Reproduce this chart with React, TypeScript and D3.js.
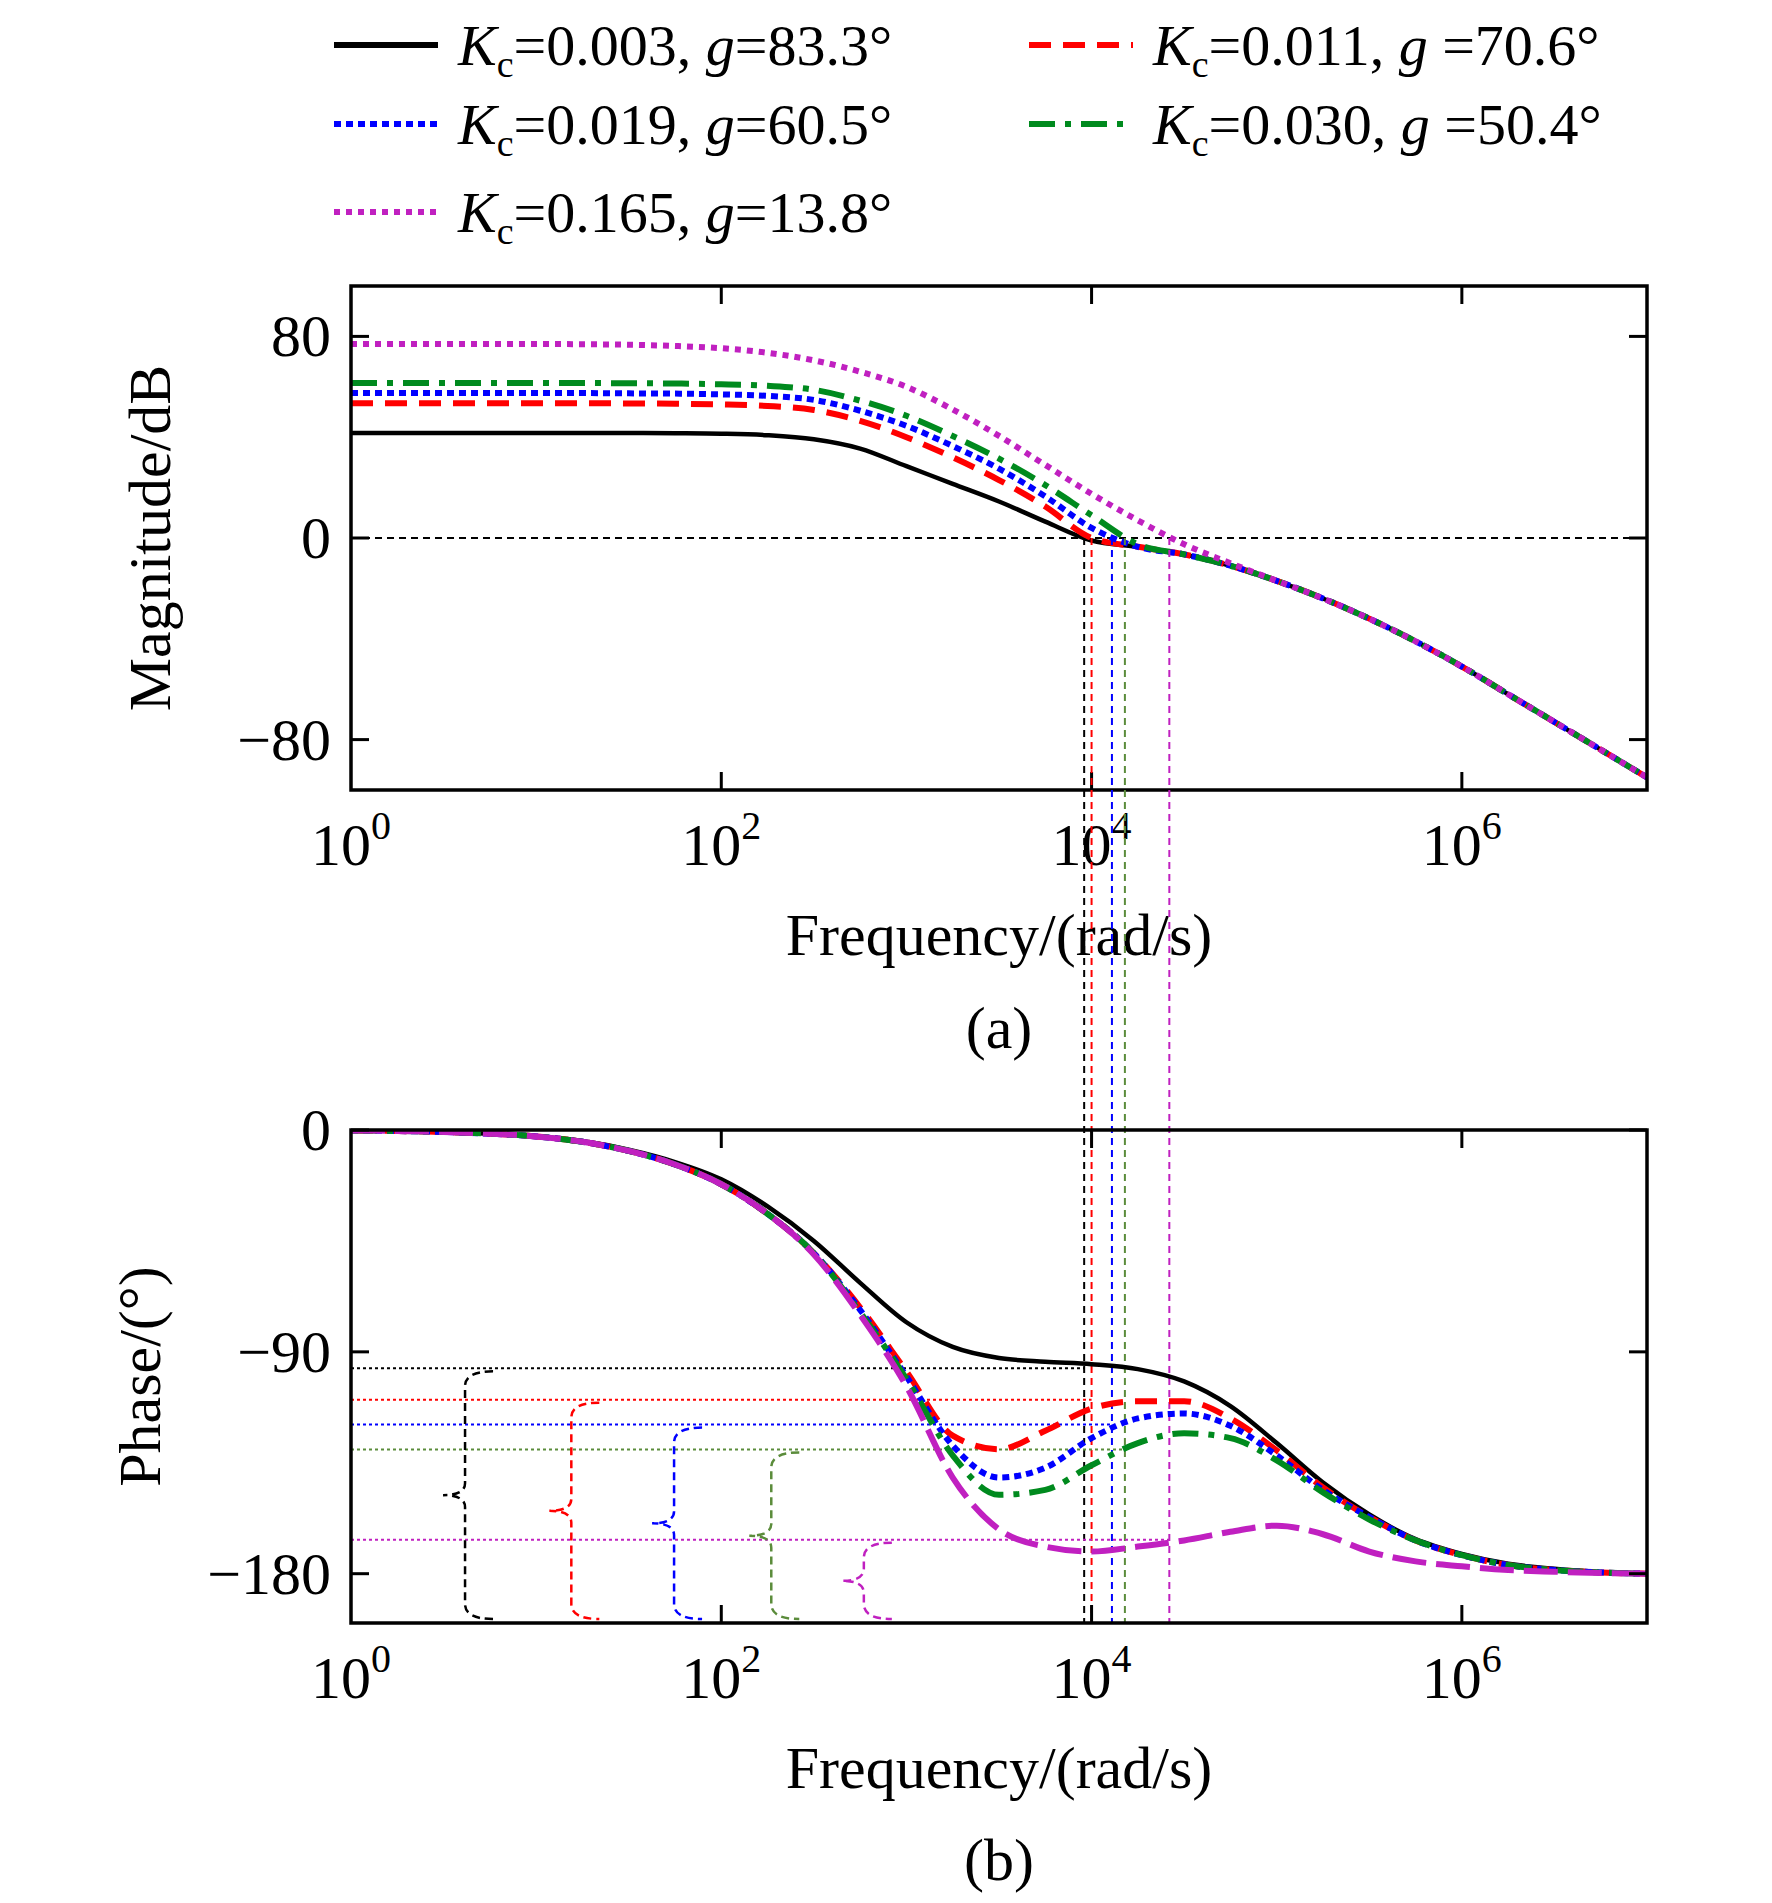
import * as d3 from "d3";

const W = 1772;
const H = 1903;

const magLogW = [0, 0.25, 0.5, 0.75, 1, 1.25, 1.5, 1.75, 2, 2.25, 2.5, 2.75, 3, 3.25, 3.5, 3.75, 4, 4.25, 4.5, 4.75, 5, 5.25, 5.5, 5.75, 6, 6.25, 6.5, 6.75, 7];
const tail = [-3.5, -6.5, -11, -17, -24, -32, -41, -51, -62, -73, -84, -95];
const magBlack = [41.7, 41.7, 41.7, 41.7, 41.7, 41.7, 41.7, 41.6, 41.4, 40.8, 39.2, 35.5, 28.5, 21.5, 14.5, 6.5, -1, ...tail];
const magRed = [53.5, 53.5, 53.5, 53.5, 53.5, 53.5, 53.4, 53.3, 53, 52.4, 50.8, 46.5, 40, 32, 23, 12.5, 0, ...tail];
const magBlue = [57.5, 57.5, 57.5, 57.5, 57.5, 57.5, 57.4, 57.3, 57, 56.4, 54.8, 50.5, 44.5, 36.5, 27.5, 16.5, 4, ...tail];
const magGreen = [61.5, 61.5, 61.5, 61.5, 61.5, 61.5, 61.4, 61.3, 61, 60.4, 58.8, 54.5, 48.5, 40.5, 31.5, 21, 9, -2.5, ...tail.slice(1)];
const magMagenta = [77, 77, 77, 77, 77, 76.9, 76.7, 76.2, 75.3, 73.5, 70.5, 66, 60, 51, 40.5, 29, 17.5, 7, -2.5, -10, -17, ...tail.slice(4)];

const phLogW = [0, 0.25, 0.5, 0.75, 1, 1.25, 1.5, 1.75, 2, 2.25, 2.5, 2.75, 3, 3.25, 3.5, 3.75, 4, 4.25, 4.5, 4.75, 5, 5.25, 5.5, 5.75, 6, 6.25, 6.5, 6.75, 7];
const phBlack = [-0.2, -0.4, -0.8, -1.5, -2.5, -4.5, -8, -13, -20, -31, -45, -62, -78, -88, -92.5, -94, -95, -97, -102, -112, -127, -143, -156, -166, -172, -176, -178, -179.3, -180];
const phRed = [-0.2, -0.4, -0.8, -1.5, -2.6, -4.8, -8.5, -14, -22, -34, -50, -72, -98, -124, -129.5, -122, -113, -110, -110, -117, -130, -145, -157, -166.5, -172.5, -176.5, -178.5, -179.5, -180];
const phBlue = [-0.2, -0.4, -0.8, -1.5, -2.6, -4.8, -8.5, -14, -22, -34, -50, -73, -100, -128, -141, -137, -125, -117, -115, -120, -132, -146, -157, -166.5, -172.5, -176.5, -178.5, -179.5, -180];
const phGreen = [-0.2, -0.4, -0.8, -1.5, -2.6, -4.8, -8.5, -14, -22, -34, -50, -74, -101, -132, -148, -146, -136, -127, -123, -125, -134, -147, -158, -166.5, -172.5, -176.5, -178.5, -179.5, -180];
const phMagenta = [-0.2, -0.4, -0.8, -1.5, -2.6, -4.8, -8.5, -14, -22, -34, -50.5, -75, -104, -141, -162, -169, -171, -169, -166.5, -163, -160.5, -164, -171, -175, -177, -178.5, -179.2, -179.7, -180];

const labels = ["0.003", "0.011", "0.019", "0.030", "0.165"];
const gammas = ["83.3", "70.6", "60.5", "50.4", "13.8"];
const crossLogW = [3.96, 4.0, 4.11, 4.18, 4.42];
const crossPhase = [-96.7, -109.4, -119.5, -129.6, -166.2];
const braceLogW = [0.616, 1.19, 1.745, 2.27, 2.77];

const colors = ["#000000", "#ff0000", "#0000ff", "#008a1e", "#c020c0"];
const guideColors = ["#000000", "#ff0000", "#0000ff", "#5b8c3b", "#c020c0"];
const magSeries = [magBlack, magRed, magBlue, magGreen, magMagenta];
const phSeries = [phBlack, phRed, phBlue, phGreen, phMagenta];

const dashes = ["", "22 12", "7 5", "26 10 6 10", "6 6"];
const phDashes = ["", "22 12", "7 5", "26 10 6 10", "34 10"];

const font = "'Liberation Serif', 'Times New Roman', serif";
const L = 351, R = 1647;
const topY = [286, 790];
const botY = [1130, 1623];

const x = d3.scaleLinear().domain([0, 7]).range([L, R]);
const yMag = d3.scaleLinear().domain([-100, 100]).range([topY[1], topY[0]]);
const yPh = d3.scaleLinear().domain([-200, 0]).range([botY[1], botY[0]]);

function Frame({ y0, y1, yScale, yTicks }: { y0: number; y1: number; yScale: d3.ScaleLinear<number, number>; yTicks: number[] }) {
  const tl = 18;
  return (
    <g>
      <rect x={L} y={y0} width={R - L} height={y1 - y0} fill="none" stroke="#000" strokeWidth={3.5} />
      {[2, 4, 6].map((t) => (
        <g key={t}>
          <line x1={x(t)} x2={x(t)} y1={y1} y2={y1 - tl} stroke="#000" strokeWidth={3} />
          <line x1={x(t)} x2={x(t)} y1={y0} y2={y0 + tl} stroke="#000" strokeWidth={3} />
        </g>
      ))}
      {[0, 2, 4, 6].map((t) => (
        <text key={t} x={x(t)} y={y1 + 75} fontFamily={font} fontSize={60} textAnchor="middle">
          10<tspan dy={-26} fontSize={40}>{t}</tspan>
        </text>
      ))}
      {yTicks.map((t) => (
        <g key={t}>
          <line x1={L} x2={L + tl} y1={yScale(t)} y2={yScale(t)} stroke="#000" strokeWidth={3} />
          <line x1={R} x2={R - tl} y1={yScale(t)} y2={yScale(t)} stroke="#000" strokeWidth={3} />
          <text x={L - 20} y={yScale(t) + 20} fontFamily={font} fontSize={60} textAnchor="end">
            {t < 0 ? "\u2212" + Math.abs(t) : t}
          </text>
        </g>
      ))}
      <text x={(L + R) / 2} y={y1 + 165} fontFamily={font} fontSize={60} textAnchor="middle">
        Frequency/(rad/s)
      </text>
    </g>
  );
}

export default function App() {
  const magLine = (vals: number[]) =>
    d3.line<number>().x((_, i) => x(magLogW[i])).y((v) => yMag(v)).curve(d3.curveMonotoneX)(vals) ?? "";
  const phLine = (vals: number[]) =>
    d3.line<number>().x((_, i) => x(phLogW[i])).y((v) => yPh(v)).curve(d3.curveMonotoneX)(vals) ?? "";

  const legendPos = [
    [334, 55], [1029, 55], [334, 134], [1029, 134], [334, 222],
  ];

  return (
    <svg width={W} height={H} style={{ position: "absolute", left: 0, top: 0, background: "#fff" }}>
      {/* legend */}
      {labels.map((lab, i) => {
        const [lx, ly] = legendPos[i];
        return (
          <g key={lab}>
            <line x1={lx} x2={lx + 104} y1={ly - 10} y2={ly - 10} stroke={colors[i]} strokeWidth={6} strokeDasharray={dashes[i]} />
            <text x={lx + 124} y={ly + 10} fontFamily={font} fontSize={58}>
              <tspan fontStyle="italic">K</tspan>
              <tspan fontSize={38} dy={12}>c</tspan>
              <tspan dy={-12}>={lab}, </tspan>
              <tspan fontStyle="italic">g</tspan>
              <tspan>{i === 1 || i === 3 ? " =" : "="}{gammas[i]}°</tspan>
            </text>
          </g>
        );
      })}

      <defs>
        <clipPath id="cm"><rect x={L} y={topY[0]} width={R - L} height={topY[1] - topY[0]} /></clipPath>
        <clipPath id="cp"><rect x={L} y={botY[0]} width={R - L} height={botY[1] - botY[0]} /></clipPath>
      </defs>
      <line x1={L} x2={R} y1={yMag(0)} y2={yMag(0)} stroke="#000" strokeWidth={2} strokeDasharray="7 5" />
      <g clipPath="url(#cm)">
        {magSeries.map((s, i) => (
          <path key={i} d={magLine(s)} fill="none" stroke={colors[i]} strokeWidth={i === 0 ? 4.5 : 6}
            strokeDasharray={dashes[i]} />
        ))}
      </g>
      <Frame y0={topY[0]} y1={topY[1]} yScale={yMag} yTicks={[80, 0, -80]} />
      <text transform={`translate(170, ${(topY[0] + topY[1]) / 2}) rotate(-90)`} fontFamily={font} fontSize={60} textAnchor="middle">
        Magnitude/dB
      </text>
      <text x={(L + R) / 2} y={1048} fontFamily={font} fontSize={60} textAnchor="middle">(a)</text>

      {crossLogW.map((c, i) => (
        <g key={i}>
          <line x1={x(c)} x2={x(c)} y1={yMag(0)} y2={botY[1]} stroke={guideColors[i]} strokeWidth={2} strokeDasharray="7 5" />
          <line x1={L} x2={x(c)} y1={yPh(crossPhase[i])} y2={yPh(crossPhase[i])} stroke={guideColors[i]} strokeWidth={2} strokeDasharray="3 3" />
        </g>
      ))}
      {braceLogW.map((b, i) => {
        const bx = x(b);
        const yt = yPh(crossPhase[i]) + 3;
        const yb = botY[1] - 4;
        const ym = (yt + yb) / 2;
        const d = `M${bx + 28},${yt} Q${bx},${yt} ${bx},${yt + 15} L${bx},${ym - 12} Q${bx},${ym} ${bx - 22},${ym} Q${bx},${ym} ${bx},${ym + 12} L${bx},${yb - 15} Q${bx},${yb} ${bx + 28},${yb}`;
        return <path key={i} d={d} fill="none" stroke={guideColors[i]} strokeWidth={2.5} strokeDasharray="8 5" />;
      })}
      <g clipPath="url(#cp)">
        {phSeries.map((s, i) => (
          <path key={i} d={phLine(s)} fill="none" stroke={colors[i]} strokeWidth={i === 0 ? 4.5 : 6}
            strokeDasharray={phDashes[i]} />
        ))}
      </g>
      <Frame y0={botY[0]} y1={botY[1]} yScale={yPh} yTicks={[0, -90, -180]} />
      <text transform={`translate(160, ${(botY[0] + botY[1]) / 2}) rotate(-90)`} fontFamily={font} fontSize={60} textAnchor="middle">
        Phase/(°)
      </text>
      <text x={(L + R) / 2} y={1880} fontFamily={font} fontSize={60} textAnchor="middle">(b)</text>
    </svg>
  );
}
